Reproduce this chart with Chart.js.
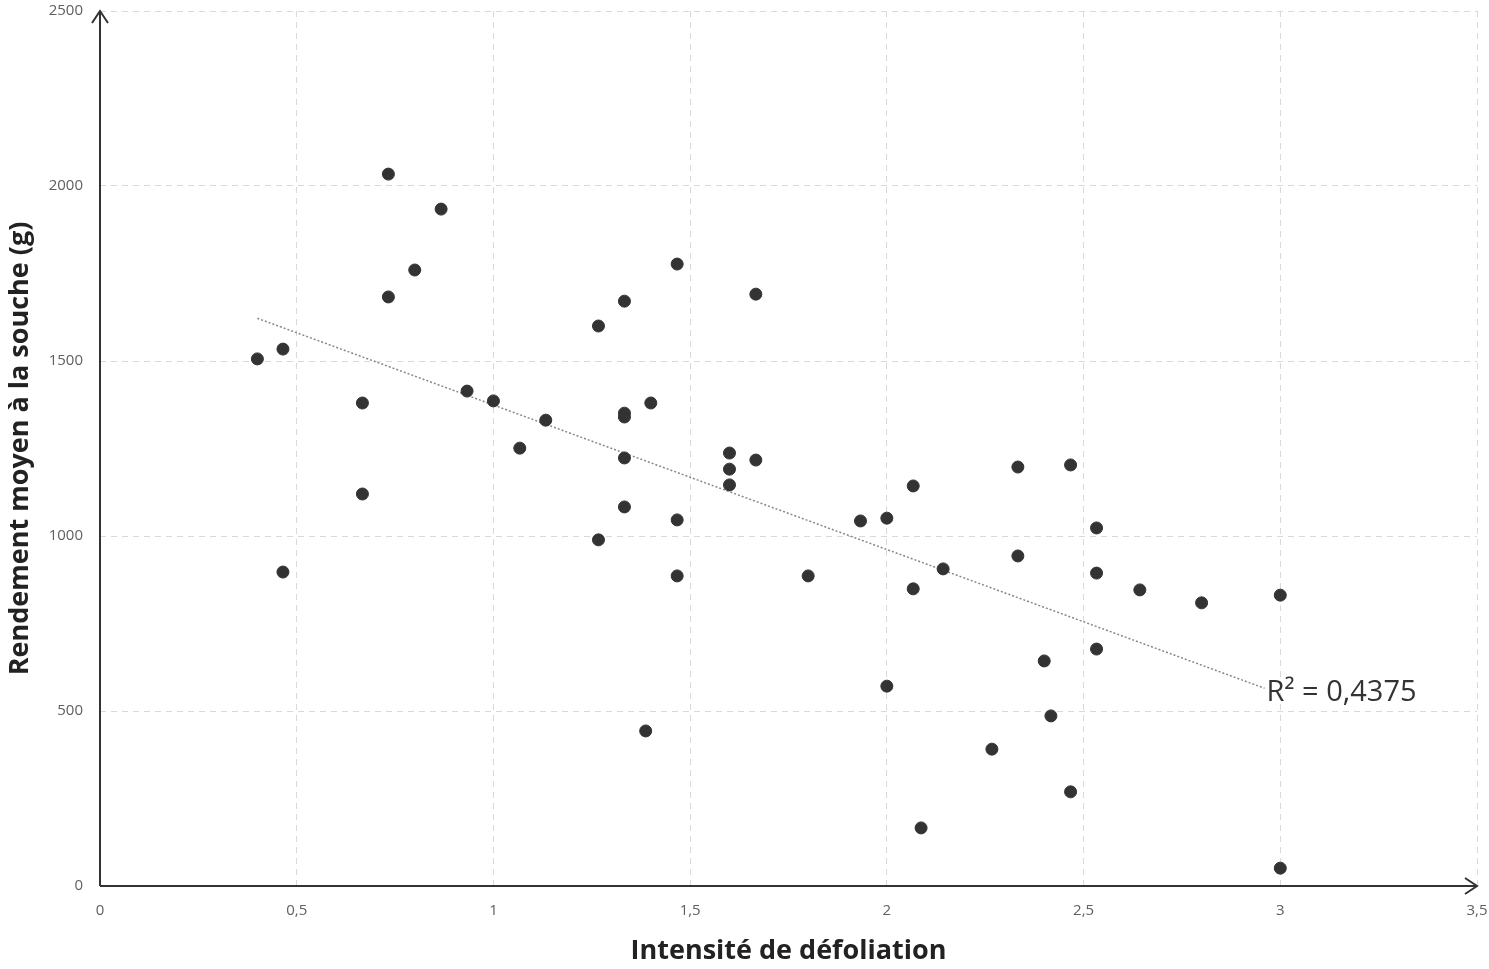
<!DOCTYPE html>
<html>
<head>
<meta charset="utf-8">
<script src="https://cdn.jsdelivr.net/npm/chart.js@4"></script>
<style>
  html, body { margin:0; padding:0; background:#fff; }
  #wrap { width:1489px; height:969px; }
</style>
</head>
<body>
<div id="wrap"><canvas id="chart"></canvas></div>
<script>
// Intensité de défoliation (x) / rendement moyen à la souche en g (y)
const defoliation = [
  0.40, 0.465, 0.465, 0.667, 0.667, 0.733, 0.733, 0.80, 0.867, 0.933,
  1.0, 1.067, 1.133, 1.267, 1.267, 1.333, 1.333, 1.333, 1.333, 1.333,
  1.387, 1.40, 1.467, 1.467, 1.467, 1.60, 1.60, 1.60, 1.667, 1.667,
  1.80, 1.933, 2.0, 2.0, 2.067, 2.067, 2.087, 2.143, 2.267, 2.333,
  2.333, 2.40, 2.417, 2.467, 2.467, 2.533, 2.533, 2.533, 2.643, 2.80,
  3.0, 3.0
];
const rendement = [
  1506, 1534, 897, 1380, 1120, 2034, 1683, 1760, 1934, 1414,
  1386, 1251, 1331, 1600, 989, 1671, 1351, 1340, 1223, 1083,
  443, 1380, 1777, 1046, 886, 1237, 1191, 1146, 1691, 1217,
  886, 1043, 1051, 571, 1143, 849, 166, 906, 391, 1197,
  943, 643, 486, 1203, 269, 1023, 894, 677, 846, 809,
  831, 51
];
// tendance linéaire
const trendX = [0.40, 2.96];
const trendY = [1622, 565];
const r2Label = 'R² = 0,4375';

const points = defoliation.map((x, i) => ({ x, y: rendement[i] }));
const trend = trendX.map((x, i) => ({ x, y: trendY[i] }));

const fmt = v => String(v).replace('.', ',');

// axes avec flèches + étiquette R²
const axesArrows = {
  id: 'axesArrows',
  afterDatasetsDraw(chart) {
    const { ctx, chartArea: a } = chart;
    ctx.save();
    ctx.strokeStyle = '#333';
    ctx.lineWidth = 2;
    ctx.beginPath();
    ctx.moveTo(a.left, a.bottom); ctx.lineTo(a.left, a.top);
    ctx.moveTo(a.left - 8, a.top + 12); ctx.lineTo(a.left, a.top); ctx.lineTo(a.left + 8, a.top + 12);
    ctx.moveTo(a.left, a.bottom); ctx.lineTo(a.right, a.bottom);
    ctx.moveTo(a.right - 12, a.bottom - 8); ctx.lineTo(a.right, a.bottom); ctx.lineTo(a.right - 12, a.bottom + 8);
    ctx.stroke();

    const last = chart.getDatasetMeta(1).data[1];
    ctx.fillStyle = '#333';
    ctx.font = '29px "Open Sans"';
    ctx.textAlign = 'left';
    ctx.textBaseline = 'middle';
    ctx.fillText(r2Label, last.x + 2, last.y + 4);
    ctx.restore();
  }
};

new Chart(document.getElementById('chart'), {
  type: 'scatter',
  data: {
    datasets: [
      {
        data: points,
        backgroundColor: '#333',
        borderColor: '#333',
        pointRadius: 6,
        pointHoverRadius: 6
      },
      {
        type: 'line',
        data: trend,
        borderColor: '#888',
        borderWidth: 1.5,
        borderDash: [2, 2],
        pointRadius: 0,
        fill: false
      }
    ]
  },
  options: {
    responsive: true,
    maintainAspectRatio: false,
    animation: false,
    layout: { padding: { top: 11, right: 12, left: 0, bottom: 0 } },
    plugins: { legend: { display: false }, tooltip: { enabled: false } },
    scales: {
      x: {
        type: 'linear',
        min: 0, max: 3.5,
        ticks: { stepSize: 0.5, padding: 16, color: '#606060', font: { family: 'Open Sans', size: 15 }, callback: v => fmt(v) },
        grid: { color: '#d9d9d9', drawTicks: false },
        border: { display: false, dash: [6, 5] },
        title: { display: true, text: 'Intensité de défoliation', color: '#222', font: { family: 'Open Sans', size: 27, weight: 'bold' }, padding: { top: 0, bottom: 1 } },
        afterFit: s => { s.height = 83; s.paddingLeft = 0; s.paddingRight = 0; }
      },
      y: {
        min: 0, max: 2500,
        ticks: { stepSize: 500, padding: 17, color: '#606060', font: { family: 'Open Sans', size: 15 }, callback: v => fmt(v) },
        grid: { color: '#d9d9d9', drawTicks: false },
        border: { display: false, dash: [6, 5] },
        title: { display: true, text: 'Rendement moyen à la souche (g)', color: '#222', font: { family: 'Open Sans', size: 27, weight: 'bold' }, padding: { top: 4, bottom: 0 } },
        afterFit: s => { s.width = 100; s.paddingTop = 0; s.paddingBottom = 0; }
      }
    }
  },
  plugins: [axesArrows]
});
</script>
</body>
</html>
